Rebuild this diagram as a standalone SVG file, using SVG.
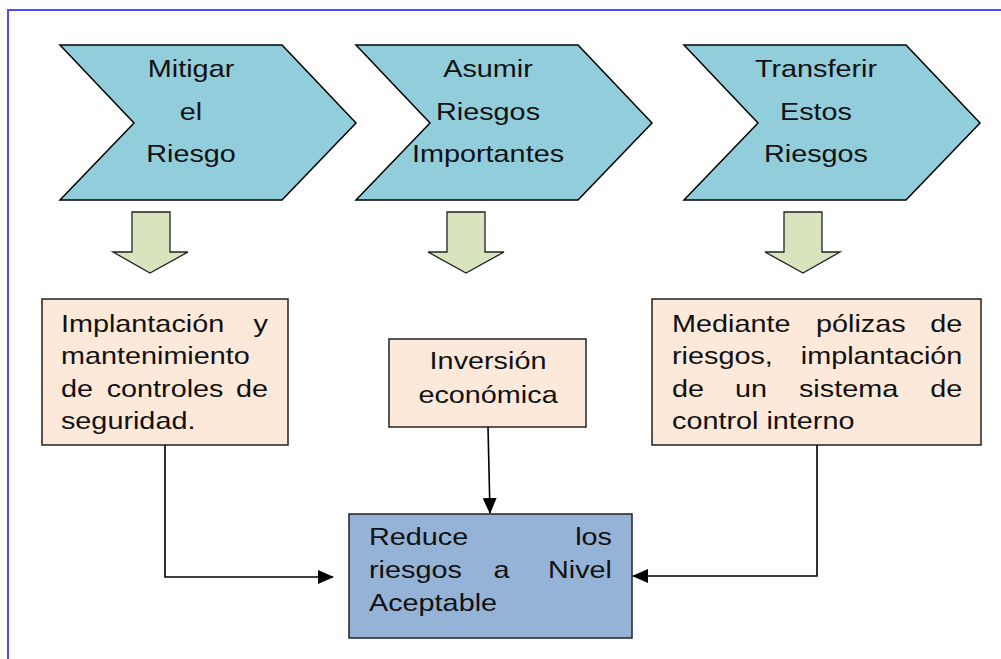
<svg xmlns="http://www.w3.org/2000/svg" width="1001" height="659" viewBox="0 0 1001 659">
<style>
.chev{fill:#92CDDC;stroke:#000;stroke-width:1.5;stroke-linejoin:miter}
.barrow{fill:#D7E4BD;stroke:#222;stroke-width:1.3}
.peach{fill:#FDE9D9;stroke:#222;stroke-width:1.5}
.blue{fill:#95B3D7;stroke:#222;stroke-width:1.5}
.conn{fill:none;stroke:#000;stroke-width:1.6}
text{font-family:"Liberation Sans",Arial,sans-serif;font-size:24px;fill:#111}
.m{text-anchor:middle}
.e{text-anchor:end}
</style>
<defs>
<marker id="ah" markerWidth="16" markerHeight="14" refX="15" refY="7" orient="auto" markerUnits="userSpaceOnUse">
<path d="M0,0 L16,7 L0,14 Z" fill="#000"/>
</marker>
</defs>
<rect width="1001" height="659" fill="#fff"/>
<path d="M8,659 V10 H1001" fill="none" stroke="#4d4dff" stroke-width="2"/>

<g id="chevron-mitigar">
<polygon class="chev" points="60,45 282,45 356,123 282,200 60,200 134,123"/>
<g transform="scale(1.2,1)"><text class="m" x="159.2" y="77">Mitigar</text><text class="m" x="159.2" y="120">el</text><text class="m" x="159.2" y="162">Riesgo</text></g>
</g>
<g id="chevron-asumir">
<polygon class="chev" points="356,45 578,45 652,123 578,200 356,200 430,123"/>
<g transform="scale(1.2,1)"><text class="m" x="406.7" y="77">Asumir</text><text class="m" x="406.7" y="120">Riesgos</text><text class="m" x="406.7" y="162">Importantes</text></g>
</g>
<g id="chevron-transferir">
<polygon class="chev" points="684,45 906,45 980,123 906,200 684,200 758,123"/>
<g transform="scale(1.2,1)"><text class="m" x="680" y="77">Transferir</text><text class="m" x="680" y="120">Estos</text><text class="m" x="680" y="162">Riesgos</text></g>
</g>

<g id="blockarrow-1"><polygon class="barrow" points="132,212 170,212 170,252 188,252 150,273 113,252 132,252"/></g>
<g id="blockarrow-2"><polygon class="barrow" points="447,212 485,212 485,252 504,252 466,273 428,252 447,252"/></g>
<g id="blockarrow-3"><polygon class="barrow" points="784,212 822,212 822,252 840,252 803,273 765,252 784,252"/></g>

<g id="box-implantacion">
<rect class="peach" x="42" y="299" width="246" height="146"/>
<g transform="scale(1.2,1)">
<text x="50.8" y="332">Implantación</text><text class="e" x="223.3" y="332">y</text>
<text x="50.8" y="364.5">mantenimiento</text>
<text x="50.8" y="397">de</text><text x="88.9" y="397">controles</text><text class="e" x="223.3" y="397">de</text>
<text x="50.8" y="429.5">seguridad.</text>
</g>
</g>

<g id="box-inversion">
<rect class="peach" x="389" y="339" width="197" height="88"/>
<g transform="scale(1.2,1)">
<text class="m" x="406.7" y="369">Inversión</text>
<text class="m" x="406.7" y="403">económica</text>
</g>
</g>

<g id="box-mediante">
<rect class="peach" x="652" y="299" width="329" height="146"/>
<g transform="scale(1.2,1)">
<text x="560" y="332">Mediante</text><text x="680" y="332">pólizas</text><text class="e" x="802" y="332">de</text>
<text x="560" y="364.5">riesgos,</text><text class="e" x="802" y="364.5">implantación</text>
<text x="560" y="397">de</text><text x="612.5" y="397">un</text><text x="665.8" y="397">sistema</text><text class="e" x="802" y="397">de</text>
<text x="560" y="429.5">control interno</text>
</g>
</g>

<g id="box-reduce">
<rect class="blue" x="349" y="514" width="283" height="124"/>
<g transform="scale(1.2,1)">
<text x="307.5" y="545">Reduce</text><text class="e" x="510" y="545">los</text>
<text x="307.5" y="578">riesgos</text><text class="m" x="418" y="578">a</text><text class="e" x="510" y="578">Nivel</text>
<text x="307.5" y="611">Aceptable</text>
</g>
</g>

<g id="connectors">
<path class="conn" d="M165,445 V577 H333" marker-end="url(#ah)"/>
<path class="conn" d="M488,427 L490,513" marker-end="url(#ah)"/>
<path class="conn" d="M817,445 V576 H633" marker-end="url(#ah)"/>
</g>
</svg>
